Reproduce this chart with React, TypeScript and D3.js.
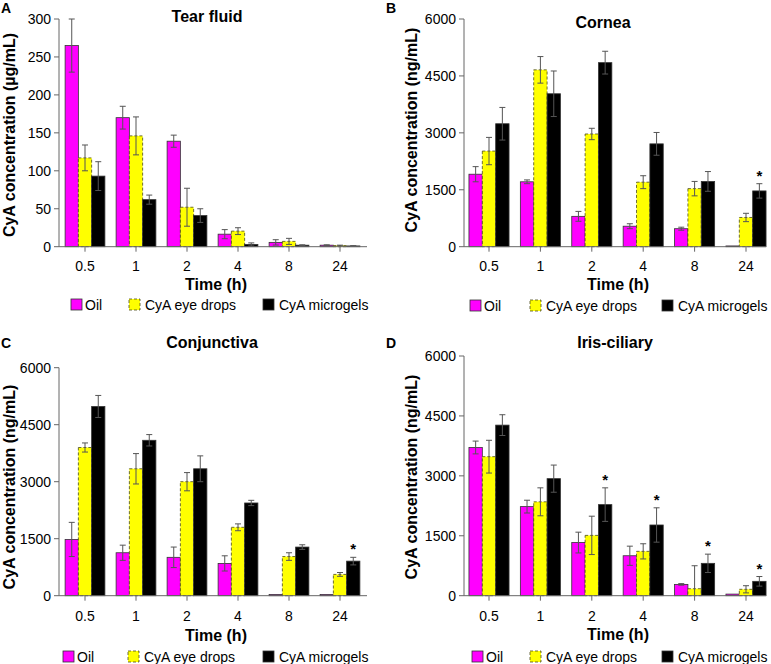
import React from "react";
import * as d3 from "d3";

const timeLabels = ["0.5", "1", "2", "4", "8", "24"];
const seriesNames = ["Oil", "CyA eye drops", "CyA microgels"];

// Tear fluid (µg/mL)
const tearOil = [265, 170, 139, 16.5, 5.7, 2];
const tearOilErr = [35, 15, 8, 6, 3.5, 0.5];
const tearDrops = [117, 146, 52, 20.5, 7, 1.5];
const tearDropsErr = [17, 25, 25, 4.5, 4, 0.5];
const tearGels = [93, 62, 41, 3, 2, 1];
const tearGelsErr = [19, 6, 9, 2, 0.5, 0.3];

// Cornea (ng/mL)
const corneaOil = [1910, 1710, 800, 540, 474, 20];
const corneaOilErr = [200, 50, 130, 65, 40, 0];
const corneaDrops = [2520, 4660, 2970, 1700, 1530, 770];
const corneaDropsErr = [360, 350, 150, 170, 190, 110];
const corneaGels = [3240, 4030, 4850, 2710, 1720, 1470];
const corneaGelsErr = [430, 600, 300, 300, 260, 190];

// Conjunctiva (ng/mL)
const conjOil = [1480, 1130, 1010, 850, 30, 30];
const conjOilErr = [450, 200, 270, 200, 0, 0];
const conjDrops = [3900, 3340, 3000, 1800, 1030, 560];
const conjDropsErr = [120, 400, 240, 90, 100, 50];
const conjGels = [4980, 4090, 3340, 2440, 1280, 910];
const conjGelsErr = [290, 150, 340, 70, 60, 100];

// Iris-ciliary (ng/mL)
const irisOil = [3710, 2230, 1330, 1000, 283, 40];
const irisOilErr = [160, 160, 260, 240, 20, 0];
const irisDrops = [3480, 2350, 1510, 1110, 175, 160];
const irisDropsErr = [410, 350, 480, 190, 575, 90];
const irisGels = [4270, 2930, 2280, 1770, 810, 360];
const irisGelsErr = [260, 340, 420, 430, 230, 120];

const tearTicks = [0, 50, 100, 150, 200, 250, 300];
const ngTicks = [0, 1500, 3000, 4500, 6000];

const cornaStars = [false, false, false, false, false, true];
const conjStars = [false, false, false, false, false, true];
const irisStars = [false, false, true, true, true, true];
const noStars = [false, false, false, false, false, false];

const FONT = "'Liberation Sans', Arial, Helvetica, sans-serif";
const colors = ["#ff00ff", "#ffff00", "#000000"];
const ERR = "#555";

type Panel = {
  letter: string;
  title: string;
  yLabel: string;
  series: number[][];
  errs: number[][];
  stars: boolean[];
  yMax: number;
  ticks: number[];
  axisX0: number;
  axisX1: number;
  c0: number;
  c5: number;
  yTop: number;
  yBase: number;
  titleX: number;
  titleY: number;
  letterX: number;
  letterY: number;
  yLabelX: number;
  yLabelY: number;
  tickLabelY: number;
  xLabelY: number;
  legendY: number;
  legendX: number[];
};

const panels: Panel[] = [
  {
    letter: "A", title: "Tear fluid", yLabel: "CyA concentration (µg/mL)",
    series: [tearOil, tearDrops, tearGels], errs: [tearOilErr, tearDropsErr, tearGelsErr],
    stars: noStars, yMax: 300, ticks: tearTicks,
    axisX0: 59, axisX1: 367, c0: 85, c5: 340, yTop: 19, yBase: 246.7,
    titleX: 207, titleY: 22, letterX: 1, letterY: 13, yLabelX: 15, yLabelY: 135,
    tickLabelY: 271, xLabelY: 290, legendY: 310, legendX: [71, 129, 263],
  },
  {
    letter: "B", title: "Cornea", yLabel: "CyA concentration (ng/mL)",
    series: [corneaOil, corneaDrops, corneaGels], errs: [corneaOilErr, corneaDropsErr, corneaGelsErr],
    stars: cornaStars, yMax: 6000, ticks: ngTicks,
    axisX0: 464, axisX1: 766, c0: 489, c5: 746, yTop: 19, yBase: 246.7,
    titleX: 603, titleY: 28, letterX: 386, letterY: 13, yLabelX: 417, yLabelY: 130,
    tickLabelY: 271, xLabelY: 290, legendY: 311, legendX: [470, 530, 662],
  },
  {
    letter: "C", title: "Conjunctiva", yLabel: "CyA concentration (ng/mL)",
    series: [conjOil, conjDrops, conjGels], errs: [conjOilErr, conjDropsErr, conjGelsErr],
    stars: conjStars, yMax: 6000, ticks: ngTicks,
    axisX0: 59, axisX1: 367, c0: 85, c5: 340, yTop: 367.7, yBase: 595.7,
    titleX: 212, titleY: 348, letterX: 1, letterY: 348, yLabelX: 15, yLabelY: 487,
    tickLabelY: 621, xLabelY: 641, legendY: 662, legendX: [63, 128, 263],
  },
  {
    letter: "D", title: "Iris-ciliary", yLabel: "CyA concentration (ng/mL)",
    series: [irisOil, irisDrops, irisGels], errs: [irisOilErr, irisDropsErr, irisGelsErr],
    stars: irisStars, yMax: 6000, ticks: ngTicks,
    axisX0: 464, axisX1: 766, c0: 489, c5: 746, yTop: 356, yBase: 595.7,
    titleX: 615, titleY: 348, letterX: 386, letterY: 348, yLabelX: 417, yLabelY: 477,
    tickLabelY: 621, xLabelY: 640, legendY: 662, legendX: [472, 530, 662],
  },
];

function BarPanel({ p }: { p: Panel }) {
  const step = (p.c5 - p.c0) / 5;
  const x = d3
    .scaleBand<string>()
    .domain(timeLabels)
    .range([p.c0 - step / 2, p.c5 + step / 2])
    .paddingInner(0.22)
    .paddingOuter(0.11);
  const sub = d3
    .scaleBand<number>()
    .domain([0, 1, 2])
    .range([0, x.bandwidth()])
    .padding(0);
  const y = d3.scaleLinear().domain([0, p.yMax]).range([p.yBase, p.yTop]);
  const bw = sub.bandwidth();

  return (
    <g>
      <text x={p.letterX} y={p.letterY} fontFamily={FONT} fontWeight="bold" fontSize={14}>{p.letter}</text>
      <text x={p.titleX} y={p.titleY} textAnchor="middle" fontFamily={FONT} fontWeight="bold" fontSize={16}>{p.title}</text>
      <text
        transform={`translate(${p.yLabelX},${p.yLabelY}) rotate(-90)`}
        textAnchor="middle" fontFamily={FONT} fontWeight="bold" fontSize={16}
      >{p.yLabel}</text>

      {/* bars */}
      {p.series.map((vals, si) =>
        vals.map((v, i) => {
          const bx = (x(timeLabels[i]) as number) + (sub(si) as number);
          const top = y(v);
          return (
            <rect
              key={`b${si}-${i}`}
              x={bx} y={top} width={bw} height={Math.max(0, p.yBase - top)}
              fill={colors[si]}
              stroke={si === 1 ? "#4a4a1a" : "#333"}
              strokeWidth={0.8}
              strokeDasharray={si === 1 ? "3,2" : undefined}
            />
          );
        })
      )}

      {/* error bars */}
      {p.series.map((vals, si) =>
        vals.map((v, i) => {
          const e = p.errs[si][i];
          if (!e) return null;
          const cx = (x(timeLabels[i]) as number) + (sub(si) as number) + bw / 2;
          const yHi = y(v + e);
          const lowV = v - e;
          const clamped = lowV < 0;
          const yLo = y(Math.max(0, lowV));
          return (
            <g key={`e${si}-${i}`} stroke={ERR} strokeWidth={1}>
              <line x1={cx} x2={cx} y1={yHi} y2={yLo} />
              <line x1={cx - 3} x2={cx + 3} y1={yHi} y2={yHi} />
              {!clamped && <line x1={cx - 3} x2={cx + 3} y1={yLo} y2={yLo} />}
            </g>
          );
        })
      )}

      {/* stars */}
      {p.stars.map((s, i) => {
        if (!s) return null;
        const cx = (x(timeLabels[i]) as number) + (sub(2) as number) + bw / 2;
        const v = p.series[2][i] + p.errs[2][i];
        return (
          <text key={`s${i}`} x={cx} y={y(v) - 3} textAnchor="middle" fontFamily={FONT} fontWeight="bold" fontSize={15}>*</text>
        );
      })}

      {/* axes */}
      <line x1={p.axisX0} x2={p.axisX0} y1={p.yTop} y2={p.yBase} stroke="#666" strokeWidth={1} />
      <line x1={p.axisX0} x2={p.axisX1} y1={p.yBase} y2={p.yBase} stroke="#666" strokeWidth={1} />
      {p.ticks.map((t) => (
        <g key={`yt${t}`}>
          <line x1={p.axisX0 - 5} x2={p.axisX0} y1={y(t)} y2={y(t)} stroke="#666" />
          <text x={p.axisX0 - 8} y={y(t) + 5} textAnchor="end" fontFamily={FONT} fontSize={14}>{t}</text>
        </g>
      ))}
      {timeLabels.map((t) => {
        const cx = (x(t) as number) + x.bandwidth() / 2;
        return (
          <g key={`xt${t}`}>
            <line x1={cx} x2={cx} y1={p.yBase} y2={p.yBase + 5} stroke="#666" />
            <text x={cx} y={p.tickLabelY} textAnchor="middle" fontFamily={FONT} fontSize={14}>{t}</text>
          </g>
        );
      })}
      <text x={(p.axisX0 + p.axisX1) / 2 + 3} y={p.xLabelY} textAnchor="middle" fontFamily={FONT} fontWeight="bold" fontSize={16}>Time (h)</text>

      {/* legend */}
      {seriesNames.map((n, si) => (
        <g key={`l${si}`}>
          <rect
            x={p.legendX[si]} y={p.legendY - 11} width={11} height={11}
            fill={colors[si]}
            stroke={si === 1 ? "#4a4a1a" : "#333"}
            strokeWidth={0.8}
            strokeDasharray={si === 1 ? "3,2" : undefined}
          />
          <text x={p.legendX[si] + (si === 0 ? 14 : 16)} y={p.legendY} fontFamily={FONT} fontSize={14}>{n}</text>
        </g>
      ))}
    </g>
  );
}

export default function App() {
  return (
    <svg width={771} height={664} style={{ position: "absolute", left: 0, top: 0, background: "#fff" }}>
      <rect x={0} y={0} width={771} height={664} fill="#fff" />
      {panels.map((p) => (
        <BarPanel key={p.letter} p={p} />
      ))}
    </svg>
  );
}
